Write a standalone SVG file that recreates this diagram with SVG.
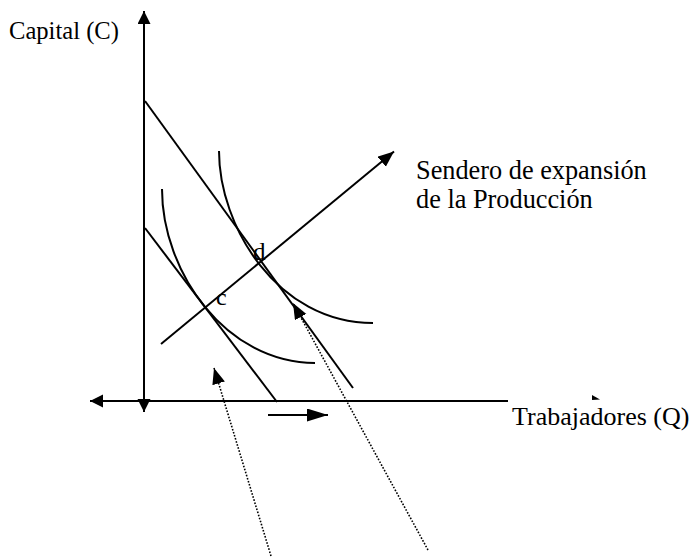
<svg xmlns="http://www.w3.org/2000/svg" width="692" height="558" viewBox="0 0 692 558">
<style>
.ln{stroke:#000;stroke-width:2;fill:none}
.dot{stroke:#000;stroke-width:1.6;fill:none;stroke-dasharray:1.6 1.6}
.tx{font-family:"Liberation Serif","Times New Roman",serif;fill:#000}
</style>
<defs>
<marker id="ax" markerUnits="userSpaceOnUse" markerWidth="14" markerHeight="14" refX="13" refY="6.5" orient="auto-start-reverse">
<path d="M0,0 L13,6.5 L0,13 Z" fill="#000"/>
</marker>
<marker id="ah" markerUnits="userSpaceOnUse" markerWidth="18" markerHeight="14" refX="16" refY="6.5" orient="auto">
<path d="M0,0 L16,6.5 L0,13 Z" fill="#000"/>
</marker>
<marker id="lg" markerUnits="userSpaceOnUse" markerWidth="22" markerHeight="14" refX="21" refY="6.5" orient="auto">
<path d="M0,0 L21,6.5 L0,13 Z" fill="#000"/>
</marker>
</defs>
<rect width="692" height="558" fill="#fff"/>
<g id="axes">
<line class="ln" x1="144" y1="412" x2="144" y2="11" marker-start="url(#ax)" marker-end="url(#ax)"/>
<line class="ln" x1="508" y1="401" x2="90" y2="401" marker-end="url(#ax)"/>
<polygon points="592,395 600,399.5 592,400" fill="#000"/>
</g>
<g id="budget-outer"><line class="ln" x1="145" y1="101" x2="353" y2="388"/></g>
<g id="budget-inner"><line class="ln" x1="145" y1="228" x2="277" y2="402"/></g>
<g id="isoquant-c"><path class="ln" d="M162,189 C162,272 226,363 315,363"/></g>
<g id="isoquant-d"><path class="ln" d="M219,151 C219,226 277,323 373,323"/></g>
<g id="expansion"><line class="ln" x1="161" y1="344" x2="394" y2="151.5" marker-end="url(#ah)"/></g>
<g id="connectors">
<line class="ln" x1="268" y1="415" x2="328" y2="415" marker-end="url(#lg)"/>
<line class="dot" x1="271" y1="556" x2="214" y2="368" marker-end="url(#ah)"/>
<line class="dot" x1="428" y1="550" x2="293" y2="303" marker-end="url(#ah)"/>
</g>
<g id="labels">
<text class="tx" x="9" y="39" font-size="24.6">Capital (C)</text>
<text class="tx" x="512" y="425" font-size="26">Trabajadores (Q)</text>
<text class="tx" x="416" y="179" font-size="26.3">Sendero de expansión</text>
<text class="tx" x="416" y="208" font-size="26.3">de la Producción</text>
<text class="tx" x="216" y="305" font-size="24">c</text>
<text class="tx" x="253" y="260" font-size="25">d</text>
</g>
</svg>
